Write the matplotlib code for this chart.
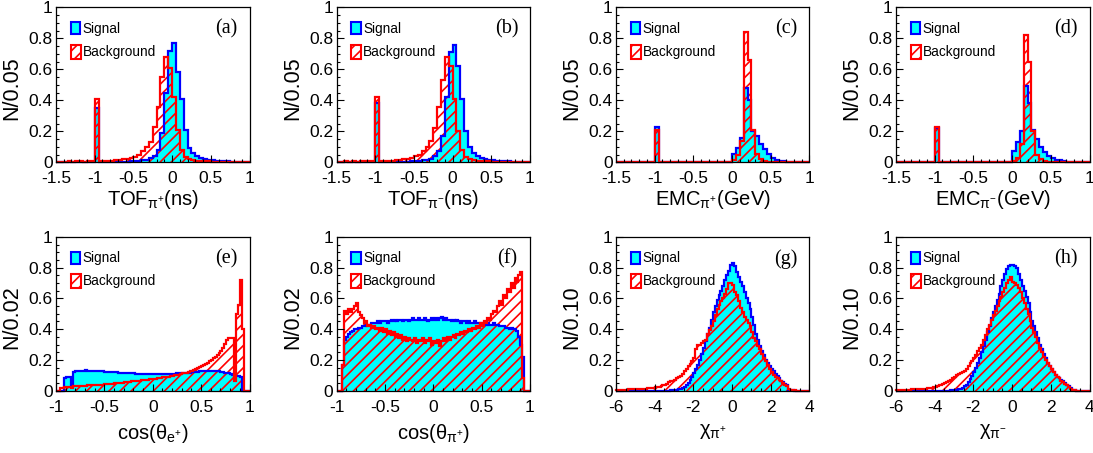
import numpy as np
import matplotlib
matplotlib.use('Agg')
import matplotlib.pyplot as plt
from matplotlib.patches import Rectangle
from matplotlib.ticker import MultipleLocator, FixedLocator

plt.rcParams['font.family'] = ['Liberation Sans', 'DejaVu Sans']
plt.rcParams['mathtext.fontset'] = 'custom'
plt.rcParams['mathtext.rm'] = 'Liberation Sans'
plt.rcParams['mathtext.it'] = 'Liberation Sans:italic'
plt.rcParams['mathtext.bf'] = 'Liberation Sans:bold'
plt.rcParams['axes.unicode_minus'] = False
plt.rcParams['hatch.linewidth'] = 1.2

# ---------------- data ----------------
# (a) TOF pi+  : 50 bins, -1.5 .. 1.0
sig_a = [0, 0, 0, 0, 0, 0, 0, 0, 0, 0,
         0.35, 0, 0, 0, 0.002, 0.003, 0.003, 0.004, 0.005, 0.006,
         0.008, 0.010, 0.013, 0.018, 0.025, 0.040, 0.080, 0.190, 0.450, 0.720,
         0.770, 0.580, 0.410, 0.210, 0.090, 0.058, 0.040, 0.030, 0.022, 0.017,
         0.013, 0.010, 0.008, 0.007, 0.006, 0.005, 0.004, 0.004, 0.003, 0.003]
bkg_a = [0.005, 0.005, 0.005, 0.006, 0.005, 0.006, 0.006, 0.005, 0.006, 0.006,
         0.41, 0.007, 0.008, 0.009, 0.011, 0.013, 0.016, 0.020, 0.024, 0.030,
         0.036, 0.046, 0.070, 0.100, 0.130, 0.230, 0.360, 0.550, 0.680, 0.610,
         0.420, 0.210, 0.080, 0.035, 0.020, 0.013, 0.010, 0.008, 0.007, 0.006,
         0.005, 0.005, 0.005, 0.004, 0.004, 0.004, 0.004, 0.003, 0.003, 0.003]
# (b) TOF pi-
sig_b = [0, 0, 0, 0, 0, 0, 0, 0, 0, 0,
         0.38, 0, 0, 0, 0.002, 0.002, 0.003, 0.004, 0.005, 0.006,
         0.008, 0.010, 0.012, 0.017, 0.024, 0.038, 0.070, 0.170, 0.420, 0.710,
         0.760, 0.620, 0.410, 0.200, 0.100, 0.060, 0.040, 0.030, 0.022, 0.017,
         0.013, 0.010, 0.008, 0.007, 0.006, 0.005, 0.004, 0.004, 0.003, 0.003]
bkg_b = [0.005, 0.005, 0.006, 0.005, 0.006, 0.005, 0.006, 0.006, 0.006, 0.007,
         0.42, 0.007, 0.008, 0.009, 0.011, 0.013, 0.016, 0.019, 0.024, 0.030,
         0.038, 0.050, 0.070, 0.100, 0.140, 0.220, 0.360, 0.530, 0.680, 0.620,
         0.410, 0.200, 0.080, 0.035, 0.020, 0.013, 0.010, 0.008, 0.007, 0.006,
         0.005, 0.005, 0.005, 0.004, 0.004, 0.004, 0.004, 0.003, 0.003, 0.003]
# (c) EMC pi+
sig_c = [0, 0, 0, 0, 0, 0, 0, 0, 0, 0,
         0.23, 0, 0, 0, 0, 0, 0, 0, 0, 0,
         0, 0, 0, 0, 0, 0, 0, 0, 0, 0,
         0.055, 0.090, 0.155, 0.480, 0.400, 0.200, 0.170, 0.120, 0.085, 0.055,
         0.030, 0.016, 0.010, 0.006, 0.004, 0.003, 0.002, 0.001, 0.001, 0.001]
bkg_c = [0, 0, 0, 0, 0, 0, 0, 0, 0, 0,
         0.21, 0, 0, 0, 0, 0, 0, 0, 0, 0,
         0, 0, 0, 0, 0, 0, 0, 0, 0, 0,
         0.015, 0.050, 0.140, 0.840, 0.660, 0.210, 0.055, 0.020, 0.010, 0.005,
         0.003, 0.002, 0.001, 0.001, 0, 0, 0, 0, 0, 0]
# (d) EMC pi-
sig_d = [0, 0, 0, 0, 0, 0, 0, 0, 0, 0,
         0.22, 0, 0, 0, 0, 0, 0, 0, 0, 0,
         0, 0, 0, 0, 0, 0, 0, 0, 0, 0,
         0.070, 0.130, 0.200, 0.490, 0.380, 0.210, 0.150, 0.100, 0.065, 0.040,
         0.025, 0.018, 0.012, 0.008, 0.005, 0.003, 0.002, 0.001, 0.001, 0.001]
bkg_d = [0, 0, 0, 0, 0, 0, 0, 0, 0, 0,
         0.23, 0, 0, 0, 0, 0, 0, 0, 0, 0,
         0, 0, 0, 0, 0, 0, 0, 0, 0, 0,
         0.010, 0.030, 0.120, 0.820, 0.650, 0.200, 0.050, 0.020, 0.010, 0.005,
         0.003, 0.002, 0.001, 0.001, 0, 0, 0, 0, 0, 0]
# (e) cos(theta_e+) : 100 bins, -1 .. 1
sig_e = [0, 0, 0, 0, 0.080, 0.090, 0.092, 0.088, 0.030, 0.120,
         0.125, 0.127, 0.128, 0.130, 0.131, 0.132, 0.131, 0.130, 0.129, 0.130,
         0.128, 0.127, 0.126, 0.127, 0.125, 0.124, 0.123, 0.122, 0.123, 0.121,
         0.120, 0.119, 0.118, 0.118, 0.117, 0.116, 0.115, 0.114, 0.113, 0.112,
         0.112, 0.111, 0.110, 0.110, 0.109, 0.108, 0.108, 0.107, 0.107, 0.106,
         0.106, 0.106, 0.107, 0.107, 0.108, 0.108, 0.109, 0.109, 0.110, 0.110,
         0.111, 0.111, 0.112, 0.113, 0.113, 0.114, 0.115, 0.116, 0.117, 0.118,
         0.120, 0.121, 0.123, 0.124, 0.125, 0.126, 0.127, 0.128, 0.128, 0.129,
         0.130, 0.129, 0.128, 0.127, 0.125, 0.123, 0.120, 0.118, 0.115, 0.112,
         0.110, 0.105, 0.100, 0.098, 0.095, 0.090, 0, 0, 0, 0]
bkg_e = [0, 0, 0.015, 0.020, 0.022, 0.025, 0.025, 0.024, 0.020, 0.028,
         0.030, 0.030, 0.031, 0.032, 0.033, 0.033, 0.034, 0.035, 0.035, 0.036,
         0.037, 0.038, 0.038, 0.039, 0.040, 0.041, 0.042, 0.043, 0.045, 0.046,
         0.047, 0.048, 0.050, 0.051, 0.052, 0.054, 0.055, 0.057, 0.058, 0.060,
         0.061, 0.062, 0.064, 0.065, 0.067, 0.068, 0.070, 0.071, 0.073, 0.074,
         0.076, 0.078, 0.080, 0.082, 0.084, 0.086, 0.088, 0.090, 0.092, 0.095,
         0.097, 0.100, 0.102, 0.105, 0.108, 0.112, 0.115, 0.118, 0.122, 0.126,
         0.130, 0.135, 0.140, 0.146, 0.152, 0.158, 0.165, 0.172, 0.180, 0.190,
         0.200, 0.210, 0.220, 0.232, 0.245, 0.260, 0.280, 0.305, 0.330, 0.340,
         0.345, 0.340, 0.060, 0.500, 0.560, 0.720, 0.400, 0, 0, 0]
# (f) cos(theta_pi+)
sig_f = [0, 0, 0, 0.17, 0.33, 0.35, 0.37, 0.38, 0.39, 0.40,
         0.40, 0.41, 0.41, 0.42, 0.42, 0.43, 0.43, 0.43, 0.44, 0.44,
         0.44, 0.45, 0.44, 0.45, 0.45, 0.45, 0.44, 0.45, 0.46, 0.45,
         0.46, 0.45, 0.46, 0.46, 0.45, 0.46, 0.46, 0.45, 0.46, 0.47,
         0.46, 0.46, 0.47, 0.46, 0.46, 0.47, 0.46, 0.45, 0.46, 0.47,
         0.46, 0.47, 0.46, 0.47, 0.48, 0.46, 0.47, 0.46, 0.46, 0.45,
         0.46, 0.45, 0.46, 0.45, 0.44, 0.45, 0.45, 0.44, 0.45, 0.44,
         0.44, 0.45, 0.44, 0.44, 0.43, 0.44, 0.44, 0.43, 0.44, 0.43,
         0.43, 0.44, 0.43, 0.43, 0.42, 0.42, 0.42, 0.41, 0.41, 0.40,
         0.41, 0.40, 0.40, 0.39, 0.35, 0.30, 0.22, 0, 0, 0]
bkg_f = [0, 0, 0, 0.17, 0.52, 0.50, 0.53, 0.51, 0.53, 0.55,
         0.57, 0.51, 0.49, 0.47, 0.44, 0.45, 0.42, 0.43, 0.41, 0.42,
         0.40, 0.41, 0.39, 0.41, 0.38, 0.40, 0.37, 0.39, 0.36, 0.38,
         0.35, 0.37, 0.34, 0.36, 0.33, 0.35, 0.32, 0.34, 0.33, 0.32,
         0.34, 0.31, 0.33, 0.32, 0.34, 0.31, 0.33, 0.32, 0.34, 0.30,
         0.32, 0.31, 0.33, 0.29, 0.32, 0.34, 0.32, 0.35, 0.33, 0.35,
         0.36, 0.34, 0.37, 0.36, 0.38, 0.37, 0.39, 0.38, 0.40, 0.39,
         0.41, 0.40, 0.42, 0.41, 0.44, 0.42, 0.45, 0.44, 0.47, 0.46,
         0.50, 0.52, 0.51, 0.55, 0.58, 0.56, 0.62, 0.60, 0.66, 0.64,
         0.70, 0.67, 0.73, 0.71, 0.75, 0.77, 0.08, 0, 0, 0]
# (g) chi pi+ : 100 bins, -6 .. 4
sig_g = [0, 0, 0, 0, 0, 0, 0, 0, 0, 0,
         0, 0, 0, 0, 0, 0, 0, 0, 0, 0,
         0, 0, 0, 0, 0, 0, 0, 0, 0.002, 0.003,
         0.004, 0.006, 0.008, 0.012, 0.018, 0.026, 0.037, 0.052, 0.070, 0.090,
         0.115, 0.140, 0.170, 0.200, 0.240, 0.280, 0.320, 0.370, 0.410, 0.460,
         0.510, 0.550, 0.590, 0.620, 0.650, 0.680, 0.720, 0.750, 0.780, 0.820,
         0.830, 0.810, 0.770, 0.740, 0.710, 0.680, 0.640, 0.600, 0.570, 0.530,
         0.480, 0.430, 0.370, 0.330, 0.290, 0.260, 0.230, 0.200, 0.180, 0.160,
         0.140, 0.125, 0.110, 0.095, 0.080, 0.065, 0.055, 0.045, 0.035, 0.006,
         0.003, 0.002, 0.001, 0.001, 0.001, 0, 0, 0, 0, 0]
bkg_g = [0.005, 0.005, 0.006, 0.006, 0.007, 0.007, 0.008, 0.008, 0.009, 0.010,
         0.010, 0.011, 0.012, 0.012, 0.013, 0.014, 0.015, 0.016, 0.018, 0.020,
         0.022, 0.025, 0.027, 0.030, 0.034, 0.038, 0.045, 0.055, 0.060, 0.065,
         0.072, 0.080, 0.088, 0.095, 0.110, 0.125, 0.140, 0.160, 0.175, 0.190,
         0.210, 0.270, 0.300, 0.300, 0.310, 0.320, 0.330, 0.370, 0.395, 0.420,
         0.450, 0.490, 0.530, 0.560, 0.580, 0.600, 0.630, 0.660, 0.700, 0.700,
         0.690, 0.640, 0.620, 0.580, 0.540, 0.510, 0.480, 0.460, 0.440, 0.420,
         0.380, 0.340, 0.320, 0.290, 0.270, 0.240, 0.210, 0.190, 0.170, 0.140,
         0.120, 0.105, 0.090, 0.080, 0.070, 0.060, 0.050, 0.040, 0.030, 0.010,
         0.003, 0.002, 0.002, 0.001, 0.001, 0.001, 0, 0, 0, 0]
# (h) chi pi-
sig_h = [0, 0, 0, 0, 0, 0, 0, 0, 0, 0,
         0, 0, 0, 0, 0, 0, 0, 0, 0, 0,
         0, 0, 0, 0, 0, 0, 0, 0, 0.002, 0.003,
         0.005, 0.007, 0.010, 0.014, 0.020, 0.028, 0.040, 0.055, 0.075, 0.095,
         0.120, 0.150, 0.180, 0.210, 0.250, 0.290, 0.330, 0.380, 0.420, 0.470,
         0.510, 0.550, 0.590, 0.630, 0.680, 0.720, 0.760, 0.790, 0.810, 0.820,
         0.820, 0.810, 0.800, 0.760, 0.720, 0.680, 0.650, 0.610, 0.570, 0.510,
         0.450, 0.420, 0.380, 0.340, 0.300, 0.270, 0.240, 0.210, 0.180, 0.160,
         0.140, 0.120, 0.105, 0.090, 0.080, 0.070, 0.060, 0.050, 0.040, 0.030,
         0.015, 0.005, 0.002, 0.001, 0.001, 0, 0, 0, 0, 0]
bkg_h = [0.004, 0.004, 0.005, 0.005, 0.006, 0.006, 0.007, 0.007, 0.008, 0.009,
         0.010, 0.010, 0.011, 0.012, 0.013, 0.014, 0.016, 0.018, 0.020, 0.022,
         0.025, 0.030, 0.035, 0.040, 0.045, 0.050, 0.058, 0.065, 0.070, 0.080,
         0.090, 0.100, 0.110, 0.115, 0.120, 0.125, 0.140, 0.160, 0.180, 0.195,
         0.210, 0.230, 0.260, 0.280, 0.300, 0.330, 0.360, 0.400, 0.430, 0.460,
         0.490, 0.520, 0.550, 0.580, 0.610, 0.640, 0.670, 0.700, 0.720, 0.740,
         0.710, 0.700, 0.690, 0.670, 0.640, 0.600, 0.570, 0.530, 0.500, 0.450,
         0.410, 0.380, 0.350, 0.310, 0.280, 0.250, 0.220, 0.200, 0.180, 0.160,
         0.140, 0.120, 0.100, 0.090, 0.080, 0.065, 0.055, 0.045, 0.035, 0.025,
         0.010, 0.004, 0.002, 0.001, 0.001, 0, 0, 0, 0, 0]

edges_top = np.linspace(-1.5, 1.0, 51)
edges_cos = np.linspace(-1.0, 1.0, 101)
edges_chi = np.linspace(-6.0, 4.0, 101)

xt_top = [-1.5, -1, -0.5, 0, 0.5, 1]
xtl_top = ['-1.5', '-1', '-0.5', '0', '0.5', '1']
xt_cos = [-1, -0.5, 0, 0.5, 1]
xtl_cos = ['-1', '-0.5', '0', '0.5', '1']
xt_chi = [-6, -4, -2, 0, 2, 4]
xtl_chi = ['-6', '-4', '-2', '0', '2', '4']
yt = [0, 0.2, 0.4, 0.6, 0.8, 1.0]
ytl = ['0', '0.2', '0.4', '0.6', '0.8', '1']

panels = [
    dict(sig=sig_a, bkg=bkg_a, edges=edges_top, xt=xt_top, xtl=xtl_top, minor=0.1,
         xlabel=r'TOF$_{\mathrm{\pi^{+}}}$(ns)', ylabel='N/0.05', tag='(a)'),
    dict(sig=sig_b, bkg=bkg_b, edges=edges_top, xt=xt_top, xtl=xtl_top, minor=0.1,
         xlabel=r'TOF$_{\mathrm{\pi^{-}}}$(ns)', ylabel='N/0.05', tag='(b)'),
    dict(sig=sig_c, bkg=bkg_c, edges=edges_top, xt=xt_top, xtl=xtl_top, minor=0.1,
         xlabel=r'EMC$_{\mathrm{\pi^{+}}}$(GeV)', ylabel='N/0.05', tag='(c)'),
    dict(sig=sig_d, bkg=bkg_d, edges=edges_top, xt=xt_top, xtl=xtl_top, minor=0.1,
         xlabel=r'EMC$_{\mathrm{\pi^{-}}}$(GeV)', ylabel='N/0.05', tag='(d)'),
    dict(sig=sig_e, bkg=bkg_e, edges=edges_cos, xt=xt_cos, xtl=xtl_cos, minor=0.1,
         xlabel=r'cos($\mathrm{\theta_{e^{+}}}$)', ylabel='N/0.02', tag='(e)'),
    dict(sig=sig_f, bkg=bkg_f, edges=edges_cos, xt=xt_cos, xtl=xtl_cos, minor=0.1,
         xlabel=r'cos($\mathrm{\theta_{\pi^{+}}}$)', ylabel='N/0.02', tag='(f)'),
    dict(sig=sig_g, bkg=bkg_g, edges=edges_chi, xt=xt_chi, xtl=xtl_chi, minor=0.5,
         xlabel=r'$\mathrm{\chi_{\pi^{+}}}$', ylabel='N/0.10', tag='(g)'),
    dict(sig=sig_h, bkg=bkg_h, edges=edges_chi, xt=xt_chi, xtl=xtl_chi, minor=0.5,
         xlabel=r'$\mathrm{\chi_{\pi^{-}}}$', ylabel='N/0.10', tag='(h)'),
]

W, H = 1093, 453
fig = plt.figure(figsize=(W / 100, H / 100), dpi=100)
lefts = [56, 336.5, 616, 896]
axw = 193.5
rows = [(162.3, 155.0), (390.7, 153.8)]  # (bottom px, height px)
xlab_y = [-0.165, -0.205]

CYAN = '#00ffff'
BLUE = '#0000ff'
RED = '#ff0000'

for k, p in enumerate(panels):
    r, c = divmod(k, 4)
    bpx, hpx = rows[r]
    ax = fig.add_axes([lefts[c] / W, (H - bpx) / H, axw / W, hpx / H])
    e = p['edges']
    ax.stairs(p['sig'], e, fill=True, facecolor=CYAN, edgecolor='none', linewidth=0)
    ax.stairs(p['bkg'], e, fill=True, facecolor='none', edgecolor=RED, hatch='///', linewidth=0)
    ax.stairs(p['sig'], e, fill=False, edgecolor=BLUE, linewidth=1.6, clip_on=False)
    ax.stairs(p['bkg'], e, fill=False, edgecolor=RED, linewidth=1.6, clip_on=False)
    ax.set_xlim(e[0], e[-1])
    ax.set_ylim(0, 1.0)
    ax.xaxis.set_major_locator(FixedLocator(p['xt']))
    ax.set_xticklabels(p['xtl'])
    ax.xaxis.set_minor_locator(MultipleLocator(p['minor']))
    ax.yaxis.set_major_locator(FixedLocator(yt))
    ax.set_yticklabels(ytl)
    ax.yaxis.set_minor_locator(MultipleLocator(0.05))
    ax.tick_params(axis='both', which='both', direction='in', top=False, right=False,
                   labelsize=12.5, width=0.8)
    ax.tick_params(axis='x', which='major', length=5, pad=6.5)
    ax.tick_params(axis='y', which='major', length=5, pad=2.5)
    ax.tick_params(which='minor', length=2.5)
    for s in ax.spines.values():
        s.set_linewidth(0.9)
    ax.set_xlabel(p['xlabel'], fontsize=14.5)
    ax.xaxis.set_label_coords(0.5, xlab_y[r])
    ax.set_ylabel(p['ylabel'], fontsize=15.5)
    ax.yaxis.set_label_coords(-0.172, 0.48)
    # legend
    ax.add_patch(Rectangle((0.076, 0.826), 0.049, 0.076, transform=ax.transAxes,
                           facecolor=CYAN, edgecolor=BLUE, lw=1.5, clip_on=False))
    ax.text(0.138, 0.862, 'Signal', transform=ax.transAxes, va='center', ha='left',
            fontsize=9.8)
    ax.add_patch(Rectangle((0.076, 0.668), 0.051, 0.088, transform=ax.transAxes,
                           facecolor='white', edgecolor=RED, hatch='///', lw=1.5,
                           clip_on=False))
    ax.text(0.138, 0.712, 'Background', transform=ax.transAxes, va='center', ha='left',
            fontsize=9.8)
    ax.text(0.88, 0.858, p['tag'], transform=ax.transAxes, va='center', ha='center',
            fontsize=14.5, family='Liberation Serif')

fig.savefig('out.png', dpi=100)
